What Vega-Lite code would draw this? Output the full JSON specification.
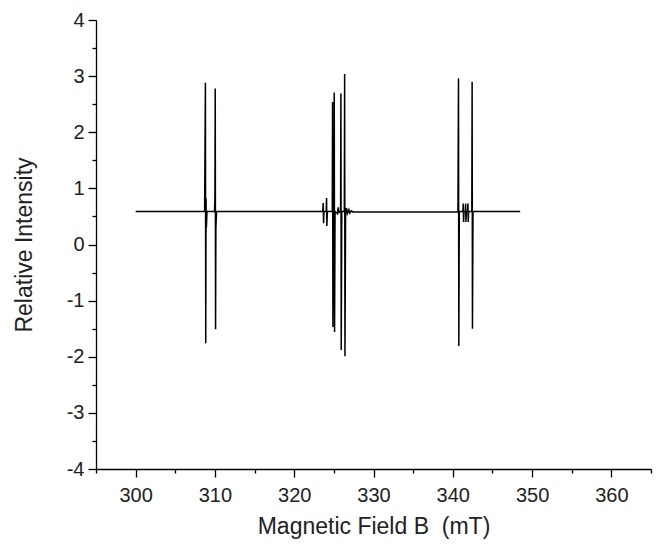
{
  "$schema": "https://vega.github.io/schema/vega-lite/v6.json",
  "autosize": {"type": "none"},
  "width": 555,
  "height": 449,
  "padding": {"left": 96, "top": 20, "right": 6, "bottom": 75},
  "background": "white",
  "config": {"view": {"stroke": null}, "font": "Liberation Sans"},
  "data": {"values": [
    {"B": 300.0, "I": 0.59},
    {"B": 308.70, "I": 0.59},
    {"B": 308.80, "I": 2.88},
    {"B": 308.84, "I": -1.76},
    {"B": 308.88, "I": 0.82},
    {"B": 308.92, "I": 0.30},
    {"B": 309.00, "I": 0.59},
    {"B": 309.95, "I": 0.59},
    {"B": 310.00, "I": 0.85},
    {"B": 310.04, "I": 2.78},
    {"B": 310.08, "I": -1.51},
    {"B": 310.12, "I": 0.28},
    {"B": 310.20, "I": 0.59},
    {"B": 323.60, "I": 0.59},
    {"B": 323.66, "I": 0.74},
    {"B": 323.70, "I": 0.38},
    {"B": 323.76, "I": 0.59},
    {"B": 324.03, "I": 0.59},
    {"B": 324.08, "I": 0.83},
    {"B": 324.12, "I": 0.33},
    {"B": 324.18, "I": 0.59},
    {"B": 324.80, "I": 0.59},
    {"B": 324.84, "I": 2.54},
    {"B": 324.88, "I": -1.47},
    {"B": 324.95, "I": 0.59},
    {"B": 325.02, "I": 0.59},
    {"B": 325.05, "I": 2.71},
    {"B": 325.09, "I": -1.56},
    {"B": 325.15, "I": 0.59},
    {"B": 325.45, "I": 0.55},
    {"B": 325.55, "I": 0.66},
    {"B": 325.65, "I": 0.57},
    {"B": 325.85, "I": 0.59},
    {"B": 325.89, "I": 2.69},
    {"B": 325.93, "I": -1.88},
    {"B": 326.00, "I": 0.59},
    {"B": 326.32, "I": 0.59},
    {"B": 326.36, "I": 3.04},
    {"B": 326.40, "I": -1.99},
    {"B": 326.48, "I": 0.59},
    {"B": 326.60, "I": 0.65},
    {"B": 326.70, "I": 0.55},
    {"B": 326.90, "I": 0.62},
    {"B": 327.00, "I": 0.56},
    {"B": 327.20, "I": 0.60},
    {"B": 327.40, "I": 0.58},
    {"B": 340.65, "I": 0.58},
    {"B": 340.72, "I": 2.96},
    {"B": 340.76, "I": -1.81},
    {"B": 340.82, "I": 0.59},
    {"B": 341.28, "I": 0.59},
    {"B": 341.32, "I": 0.73},
    {"B": 341.36, "I": 0.40},
    {"B": 341.42, "I": 0.59},
    {"B": 341.58, "I": 0.59},
    {"B": 341.62, "I": 0.73},
    {"B": 341.66, "I": 0.40},
    {"B": 341.72, "I": 0.59},
    {"B": 341.87, "I": 0.59},
    {"B": 341.91, "I": 0.73},
    {"B": 341.95, "I": 0.40},
    {"B": 342.00, "I": 0.59},
    {"B": 342.40, "I": 0.59},
    {"B": 342.44, "I": 2.90},
    {"B": 342.48, "I": -1.50},
    {"B": 342.55, "I": 0.59},
    {"B": 348.50, "I": 0.59}
  ]},
  "mark": {"type": "line", "color": "black", "strokeWidth": 1.5, "interpolate": "linear"},
  "encoding": {
    "x": {
      "field": "B", "type": "quantitative",
      "scale": {"domain": [295, 365], "nice": false, "zero": false},
      "axis": {
        "title": "Magnetic Field B\u00a0\u00a0(mT)",
        "values": [295, 300, 305, 310, 315, 320, 325, 330, 335, 340, 345, 350, 355, 360, 365],
        "labelExpr": "datum.value % 10 === 0 ? toString(datum.value) : ''",
        "grid": false,
        "domainColor": "black", "domainWidth": 1.3,
        "tickColor": "black", "tickWidth": 1.3,
        "tickSize": {"condition": {"test": "datum.value % 10 === 0", "value": 8}, "value": 4},
        "labelFontSize": 20, "labelColor": "#222", "labelPadding": 8,
        "labelFlush": false, "labelOverlap": false,
        "titleFontSize": 23, "titleFontWeight": "normal", "titleColor": "#222", "titlePadding": 10
      }
    },
    "y": {
      "field": "I", "type": "quantitative",
      "scale": {"domain": [-4, 4], "nice": false, "zero": false},
      "axis": {
        "title": "Relative Intensity",
        "values": [-4, -3.5, -3, -2.5, -2, -1.5, -1, -0.5, 0, 0.5, 1, 1.5, 2, 2.5, 3, 3.5, 4],
        "labelExpr": "datum.value % 1 === 0 ? toString(datum.value) : ''",
        "grid": false,
        "domainColor": "black", "domainWidth": 1.3,
        "tickColor": "black", "tickWidth": 1.3,
        "tickSize": {"condition": {"test": "datum.value % 1 === 0", "value": 8}, "value": 4},
        "labelFontSize": 20, "labelColor": "#222", "labelPadding": 4,
        "labelFlush": false, "labelOverlap": false,
        "titleFontSize": 23, "titleFontWeight": "normal", "titleColor": "#222", "titlePadding": 30
      }
    }
  }
}
